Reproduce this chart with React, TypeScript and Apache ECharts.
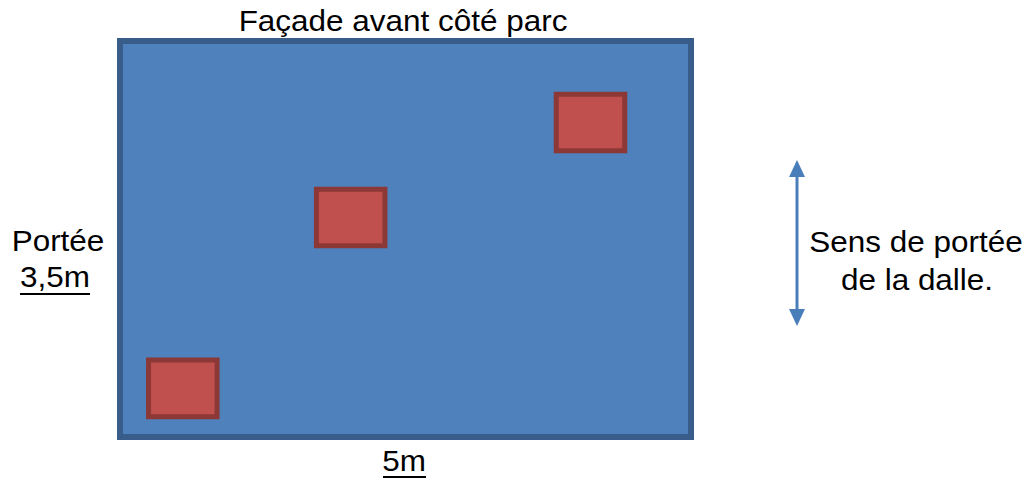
import React, { useEffect, useRef } from "react";
import * as echarts from "echarts";

// Slab dimensions (metres)
const slabWidth = 5;
const slabDepth = 3.5;
// Column positions [centreX, centreY, width, height] in metres (y measured from bottom)
const columns: number[][] = [
  [4.12, 2.78, 0.6, 0.5],
  [2.02, 1.94, 0.6, 0.5],
  [0.55, 0.43, 0.6, 0.5],
];
const titleText = "Façade avant côté parc";
const leftLabel = "Portée";
const leftValue = "3,5m";
const bottomValue = "5m";
const rightLabel = ["Sens de portée", "de la dalle."];

const FONT = "'Liberation Sans', Arial, Helvetica, sans-serif";
const FS = 29;
const BASE = 26; // offset from text top to baseline

export default function App() {
  const ref = useRef<HTMLDivElement>(null);
  useEffect(() => {
    if (!ref.current) return;
    const chart = echarts.init(ref.current, undefined, { renderer: "svg" });
    const txt = (x: number, baseline: number, text: string) => ({
      type: "text",
      x,
      y: baseline - BASE,
      scaleX: 1.085,
      style: {
        text,
        fontFamily: FONT,
        fontSize: FS,
        fill: "#000",
        align: "center",
        verticalAlign: "top",
      },
    });
    chart.setOption({
      animation: false,
      grid: { left: 120, right: 345, top: 41, bottom: 44 },
      xAxis: { type: "value", min: 0, max: slabWidth, show: false },
      yAxis: { type: "value", min: 0, max: slabDepth, show: false },
      series: [
        {
          type: "custom",
          clip: false,
          data: [[0, 0, slabWidth, slabDepth]],
          renderItem: (params: any, api: any) => {
            const p0 = api.coord([api.value(0), api.value(3)]);
            const p1 = api.coord([api.value(2), api.value(1)]);
            return {
              type: "rect",
              shape: { x: p0[0], y: p0[1], width: p1[0] - p0[0], height: p1[1] - p0[1] },
              style: { fill: "#4f81bd", stroke: "#385d8a", lineWidth: 6 },
            };
          },
        },
        {
          type: "custom",
          clip: false,
          data: columns,
          renderItem: (params: any, api: any) => {
            const cx = api.value(0), cy = api.value(1), w = api.value(2), h = api.value(3);
            const p0 = api.coord([cx - w / 2, cy + h / 2]);
            const p1 = api.coord([cx + w / 2, cy - h / 2]);
            return {
              type: "rect",
              shape: { x: p0[0], y: p0[1], width: p1[0] - p0[0], height: p1[1] - p0[1] },
              style: { fill: "#c0504d", stroke: "#8c3836", lineWidth: 5 },
            };
          },
        },
      ],
      graphic: [
        txt(403, 32, titleText),
        txt(58, 252, leftLabel),
        txt(55, 288, leftValue),
        { type: "rect", shape: { x: 20, y: 293, width: 70, height: 2 }, style: { fill: "#000" } },
        txt(404, 472, bottomValue),
        { type: "rect", shape: { x: 383, y: 476, width: 43, height: 2 }, style: { fill: "#000" } },
        txt(916, 253, rightLabel[0]),
        txt(917, 291, rightLabel[1]),
        { type: "line", shape: { x1: 797, y1: 174, x2: 797, y2: 311 }, style: { stroke: "#4a7ebb", lineWidth: 3 } },
        { type: "polygon", shape: { points: [[797, 160], [805, 177], [789, 177]] }, style: { fill: "#4a7ebb" } },
        { type: "polygon", shape: { points: [[797, 326], [805, 309], [789, 309]] }, style: { fill: "#4a7ebb" } },
      ],
    });
    return () => chart.dispose();
  }, []);
  return (
    <div
      ref={ref}
      style={{ position: "fixed", left: 0, top: 0, width: 1036, height: 481, background: "#fff" }}
    />
  );
}
